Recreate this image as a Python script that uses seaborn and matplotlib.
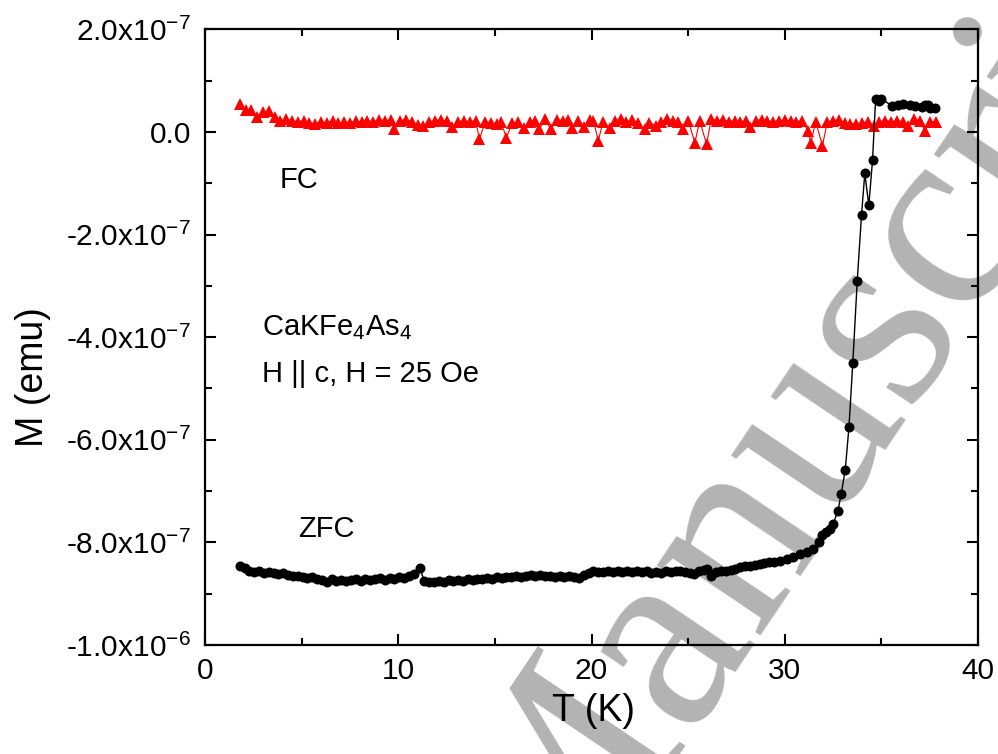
import matplotlib
matplotlib.use("Agg")
import matplotlib.pyplot as plt
import seaborn as sns
import pandas as pd
import numpy as np
from matplotlib.ticker import FixedLocator, FixedFormatter

# ---------------- data ----------------
zfc_T = [1.8, 2.05, 2.3, 2.55, 2.8, 3.05, 3.3, 3.55, 3.8, 4.05, 4.3, 4.55, 4.8, 5.05, 5.3, 5.55,
         5.8, 6.05, 6.3, 6.55, 6.8, 7.05, 7.3, 7.55, 7.8, 8.05, 8.3, 8.55, 8.8, 9.05, 9.3, 9.55,
         9.8, 10.05, 10.3, 10.55, 10.8, 11.1, 11.35, 11.6, 11.85, 12.1, 12.35, 12.6, 12.85, 13.1,
         13.35, 13.6, 13.85, 14.1, 14.35, 14.6, 14.85, 15.1, 15.35, 15.6, 15.85, 16.1, 16.35, 16.6,
         16.85, 17.1, 17.35, 17.6, 17.85, 18.1, 18.35, 18.6, 18.85, 19.1, 19.35, 19.6, 19.85, 20.1,
         20.35, 20.6, 20.85, 21.1, 21.35, 21.6, 21.85, 22.1, 22.35, 22.6, 22.85, 23.1, 23.35, 23.6,
         23.85, 24.1, 24.35, 24.6, 24.85, 25.1, 25.3, 25.55, 25.8, 26.0, 26.2, 26.45, 26.7, 26.95,
         27.2, 27.45, 27.7, 27.95, 28.2, 28.45, 28.7, 28.95, 29.2, 29.45, 29.75, 30.1, 30.45, 30.8,
         31.15, 31.45, 31.75, 31.95, 32.15, 32.35, 32.5, 32.75, 32.92, 33.13, 33.32, 33.52, 33.75,
         33.97, 34.14, 34.35, 34.54, 34.70, 34.85, 35.0, 35.56, 35.85, 36.12, 36.47, 36.73, 37.08,
         37.25, 37.42, 37.5, 37.77]
zfc_M = [-8.46, -8.50, -8.55, -8.57, -8.56, -8.60, -8.58, -8.60, -8.62, -8.59, -8.63, -8.66, -8.65,
         -8.68, -8.70, -8.67, -8.72, -8.74, -8.77, -8.72, -8.75, -8.73, -8.76, -8.74, -8.72, -8.75,
         -8.71, -8.74, -8.72, -8.70, -8.73, -8.69, -8.71, -8.68, -8.70, -8.66, -8.62, -8.49, -8.75,
         -8.77, -8.78, -8.75, -8.77, -8.74, -8.76, -8.73, -8.75, -8.72, -8.74, -8.71, -8.72, -8.69,
         -8.71, -8.68, -8.70, -8.67, -8.68, -8.66, -8.67, -8.65, -8.64, -8.66, -8.64, -8.66, -8.65,
         -8.67, -8.66, -8.68, -8.66, -8.67, -8.69, -8.64, -8.60, -8.56, -8.57, -8.58, -8.56, -8.58,
         -8.56, -8.57, -8.55, -8.57, -8.56, -8.58, -8.56, -8.59, -8.57, -8.59, -8.56, -8.58, -8.55,
         -8.56, -8.58, -8.60, -8.62, -8.56, -8.53, -8.52, -8.66, -8.58, -8.56, -8.55, -8.53, -8.52,
         -8.48, -8.46, -8.47, -8.44, -8.42, -8.40, -8.39, -8.38, -8.36, -8.33, -8.28, -8.23, -8.19,
         -8.13, -8.00, -7.86, -7.80, -7.73, -7.65, -7.38, -7.06, -6.58, -5.76, -4.50, -2.90, -1.62,
         -0.81, -1.43, -0.55, 0.64, 0.60, 0.65, 0.50, 0.53, 0.54, 0.52, 0.51, 0.49, 0.52, 0.52,
         0.46, 0.47]

fc_T = [1.8, 2.1, 2.4, 2.7, 3.0, 3.3, 3.6, 3.9, 4.2, 4.5, 4.8, 5.1, 5.4, 5.7, 6.0, 6.3, 6.6, 6.9,
        7.2, 7.5, 7.8, 8.1, 8.4, 8.7, 9.0, 9.3, 9.6, 9.8, 10.1, 10.4, 10.7, 11.0, 11.3, 11.6, 11.9,
        12.2, 12.5, 12.8, 13.1, 13.4, 13.7, 14.0, 14.2, 14.5, 14.8, 15.1, 15.3, 15.6, 15.9, 16.2,
        16.5, 16.8, 17.1, 17.3, 17.6, 17.9, 18.2, 18.5, 18.8, 19.0, 19.3, 19.6, 19.9, 20.1, 20.35,
        20.6, 20.95, 21.2, 21.5, 21.8, 22.1, 22.4, 22.75, 23.0, 23.35, 23.6, 23.9, 24.2, 24.5,
        24.75, 25.0, 25.35, 25.6, 25.95, 26.2, 26.5, 26.8, 27.1, 27.4, 27.7, 28.0, 28.2, 28.5,
        28.8, 29.1, 29.4, 29.7, 30.0, 30.3, 30.6, 30.9, 31.2, 31.35, 31.6, 31.95, 32.2, 32.5, 32.8,
        33.1, 33.4, 33.7, 34.0, 34.3, 34.6, 34.9, 35.2, 35.5, 35.8, 36.1, 36.4, 36.7, 37.0, 37.25,
        37.5, 37.8]
fc_M = [0.54, 0.43, 0.42, 0.30, 0.38, 0.40, 0.30, 0.22, 0.25, 0.22, 0.20, 0.22, 0.18, 0.16, 0.20,
        0.18, 0.22, 0.17, 0.20, 0.18, 0.21, 0.19, 0.22, 0.20, 0.24, 0.22, 0.23, 0.05, 0.22, 0.24,
        0.20, 0.13, 0.12, 0.20, 0.22, 0.24, 0.21, 0.10, 0.20, 0.22, 0.20, 0.22, -0.14, 0.20, 0.18,
        0.15, 0.20, -0.11, 0.18, 0.20, 0.07, 0.20, 0.22, 0.05, 0.25, 0.05, 0.24, 0.22, 0.23, 0.08,
        0.22, 0.10, 0.24, 0.22, -0.17, 0.20, 0.08, 0.22, 0.25, 0.20, 0.23, 0.18, 0.05, 0.18, 0.12,
        0.20, 0.25, 0.22, 0.20, 0.05, 0.22, -0.21, 0.22, -0.24, 0.25, 0.22, 0.24, 0.20, 0.22, 0.20,
        0.22, 0.10, 0.22, 0.24, 0.22, 0.20, 0.22, 0.23, 0.22, 0.20, 0.22, 0.02, -0.21, 0.20, -0.27,
        0.20, 0.22, 0.24, 0.18, 0.16, 0.15, 0.18, 0.20, 0.12, 0.20, 0.22, 0.20, 0.22, 0.20, 0.12,
        0.25, 0.22, 0.02, 0.20, 0.20]
M_SCALE = 1e-7

x_ticks = [0, 10, 20, 30, 40]
x_tick_labels = ["0", "10", "20", "30", "40"]
y_ticks = [2e-7, 0.0, -2e-7, -4e-7, -6e-7, -8e-7, -1e-6]
y_tick_labels = [r"2.0x10$^{-7}$", "0.0", r"-2.0x10$^{-7}$", r"-4.0x10$^{-7}$",
                 r"-6.0x10$^{-7}$", r"-8.0x10$^{-7}$", r"-1.0x10$^{-6}$"]

# ---------------- style ----------------
sns.set_theme(style="ticks")
plt.rcParams["font.family"] = ["Liberation Sans", "DejaVu Sans"]
plt.rcParams["mathtext.fontset"] = "custom"
plt.rcParams["mathtext.rm"] = "Liberation Sans"
plt.rcParams["mathtext.it"] = "Liberation Sans:italic"
plt.rcParams["mathtext.default"] = "regular"

zfc = pd.DataFrame({"T": zfc_T, "M": np.array(zfc_M) * M_SCALE})
fc = pd.DataFrame({"T": fc_T, "M": np.array(fc_M) * M_SCALE})

fig = plt.figure(figsize=(9.98, 7.54), dpi=100)
fig.patch.set_facecolor("white")
ax = fig.add_axes([0.2054, 0.1446, 0.9800 - 0.2054, 0.9611 - 0.1446])
ax.patch.set_alpha(0)

# watermark (behind everything)
fig.text(0.845, 1 - 385 / 754, "Manuscript", rotation=56, rotation_mode="anchor",
         ha="center", va="center", fontsize=195, family="Liberation Serif",
         color="#b3b3b3", zorder=-5)

sns.lineplot(data=fc, x="T", y="M", ax=ax, sort=False, estimator=None, color="#ff0000",
             lw=0.8, marker="^", markersize=8.5, markeredgewidth=0, zorder=3)
sns.lineplot(data=zfc, x="T", y="M", ax=ax, sort=False, estimator=None, color="black",
             lw=1.0, marker="o", markersize=7.2, markeredgewidth=0, zorder=4)

ax.set_xlim(0, 40)
ax.set_ylim(-1e-6, 2e-7)
ax.xaxis.set_major_locator(FixedLocator(x_ticks))
ax.xaxis.set_major_formatter(FixedFormatter(x_tick_labels))
ax.xaxis.set_minor_locator(FixedLocator([5, 15, 25, 35]))
ax.yaxis.set_major_locator(FixedLocator(y_ticks))
ax.yaxis.set_major_formatter(FixedFormatter(y_tick_labels))
ax.yaxis.set_minor_locator(FixedLocator([1e-7, -1e-7, -3e-7, -5e-7, -7e-7, -9e-7]))

for s in ax.spines.values():
    s.set_visible(True)
    s.set_linewidth(1.6)
    s.set_color("black")
ax.tick_params(which="both", direction="in", top=True, right=True, width=1.5, color="black")
ax.tick_params(which="major", length=8)
ax.tick_params(which="minor", length=5)
ax.tick_params(axis="y", which="major", labelsize=21.5, pad=10, labelcolor="black")
ax.tick_params(axis="x", which="major", labelsize=21.5, pad=9, labelcolor="black")

ax.set_xlabel("T (K)", fontsize=27, color="black")
ax.set_ylabel("M (emu)", fontsize=27, color="black")
ax.xaxis.label.set_va("center")
ax.yaxis.label.set_va("center")
ax.xaxis.set_label_coords(0.503, -0.107)
ax.yaxis.set_label_coords(-0.222, 0.435)

txt_kw = dict(transform=ax.transAxes, fontsize=21, color="black", va="center", ha="left")
ax.text(0.097, 0.756, "FC", **txt_kw)
ax.text(0.121, 0.188, "ZFC", **txt_kw)
ax.text(0.074, 0.516, r"CaKFe$_4$As$_4$", **txt_kw)
ax.text(0.074, 0.440, "H || c, H = 25 Oe", **txt_kw)
ax.grid(False)

fig.savefig("out.png", dpi=100, facecolor="white")
